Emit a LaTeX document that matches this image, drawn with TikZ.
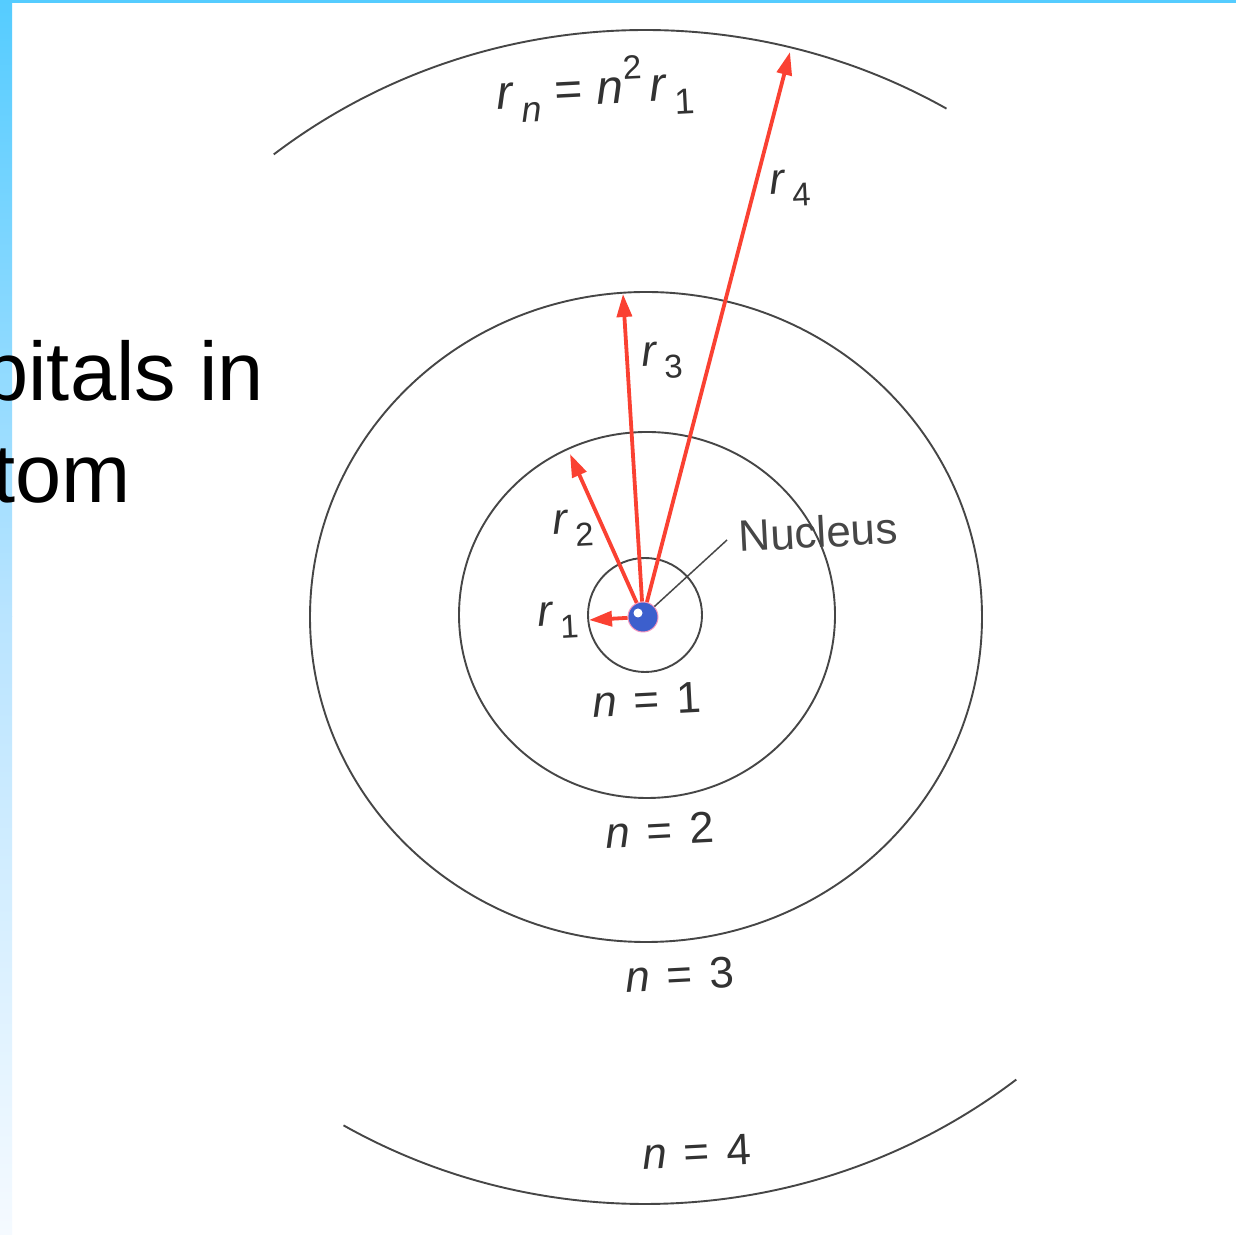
\documentclass[tikz,border=0pt]{standalone}
\usepackage{fontspec}
\usepackage{graphicx}
\setmainfont{Liberation Sans}
\usetikzlibrary{arrows.meta}
\definecolor{barcyan}{RGB}{85,204,255}
\definecolor{barmid}{RGB}{185,228,255}
\definecolor{barlow}{RGB}{245,250,255}
\definecolor{orbit}{RGB}{70,70,70}
\definecolor{rad}{RGB}{250,65,50}
\definecolor{lbl}{RGB}{50,50,50}
\definecolor{nucblue}{RGB}{60,95,205}
\definecolor{halo}{RGB}{245,150,190}
\newcommand\lsub[1]{\,\raisebox{-0.3em}{\scalebox{0.75}{#1}}}
\newcommand\hsup[1]{\raisebox{0.5em}{\scalebox{0.7}{#1}}}
\newcommand\eqsp{\hspace{0.38em}=\hspace{0.38em}}
\begin{document}
\begin{tikzpicture}[x=1pt,y=1pt,
  orbitline/.style={draw=orbit,line width=1.9pt},
  radarrow/.style={draw=rad,line width=3.8pt,-{Triangle[length=23pt,width=15pt]}},
  lab/.style={text=lbl,inner sep=0pt,rotate=3,font=\fontsize{44}{50}\selectfont},
  bigtext/.style={font=\fontsize{83}{100}\selectfont,inner sep=0pt,anchor=base east}]
\useasboundingbox (0,0) rectangle (1236,1234);
\fill[white] (0,0) rectangle (1236,1234);
% side and top bars
\shade[top color=barcyan,bottom color=barmid] (0,617) rectangle (12,1234);
\shade[top color=barmid,bottom color=barlow] (0,0) rectangle (12,617);
\fill[barcyan] (0,1231) rectangle (1236,1234);
% title fragments
\node[bigtext] (txa) at (264,833) {bitals in};
\node[bigtext] (txb) at (131,731) {tom};
% orbits
\draw[orbitline] (645,619) circle[radius=57];
\draw[orbitline] (647,619) ellipse[x radius=188,y radius=183];
\draw[orbitline] (646,617) ellipse[x radius=336,y radius=325];
\draw[orbitline] (645,617) ++(60:603 and 587) arc[start angle=60,end angle=128,x radius=603,y radius=587];
\draw[orbitline] (645,617) ++(240:603 and 587) arc[start angle=240,end angle=308,x radius=603,y radius=587];
% nucleus
\node[circle,inner sep=0pt,minimum size=30pt,fill=nucblue,draw=halo,line width=1pt] (nuc) at (643,617) {};
\fill[white] (638,621) circle[radius=4.5];
% radius arrows
\coordinate (tip1) at (589,614);
\coordinate (tip2) at (570,780);
\coordinate (tip3) at (623,940);
\coordinate (tip4) at (790,1182);
\draw[radarrow] (nuc) -- (tip1);
\draw[radarrow] (nuc) -- (tip2);
\draw[radarrow] (nuc) -- (tip3);
\draw[radarrow] (nuc) -- (tip4);
% nucleus leader
\coordinate (lead) at (727,694);
\draw[draw=orbit,line width=1.5pt] (nuc) -- (lead);
\node[lab,text=orbit] (nuctext) at (818,702) {Nucleus};
% labels
\node[lab,font=\fontsize{48}{60}\selectfont] (rn) at (595,1146) {{\itshape r}\lsub{\itshape n}\hspace{0.3em}=\hspace{0.3em}{\itshape n}\hsup{2}\hspace{0.15em}{\itshape r}\lsub{1}};
\node[lab] (r4) at (790,1046) {{\itshape r}\lsub{4}};
\node[lab] (r3) at (662,874) {{\itshape r}\lsub{3}};
\node[lab] (r2) at (573,706) {{\itshape r}\lsub{2}};
\node[lab] (r1) at (558,614) {{\itshape r}\lsub{1}};
\node[lab] (n1) at (647,534) {{\itshape n}\eqsp 1};
\node[lab] (n2) at (660,404) {{\itshape n}\eqsp 2};
\node[lab] (n3) at (680,259) {{\itshape n}\eqsp 3};
\node[lab] (n4) at (697,82) {{\itshape n}\eqsp 4};
\end{tikzpicture}
\end{document}
